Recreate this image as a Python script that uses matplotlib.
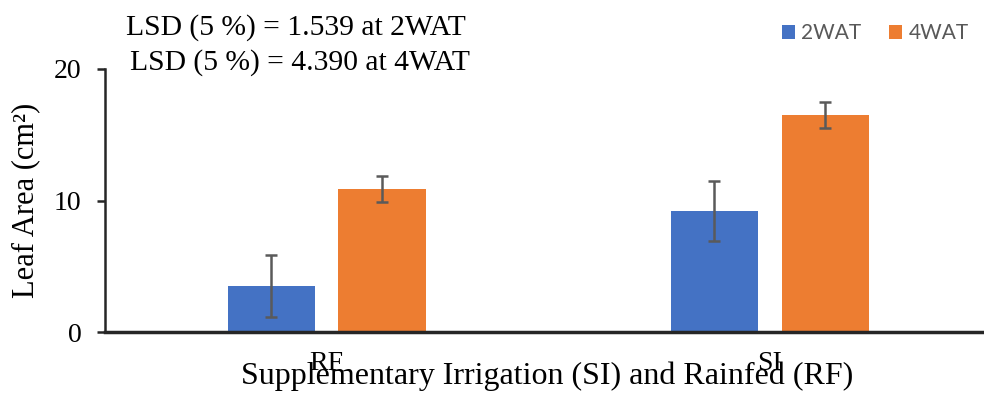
import matplotlib
matplotlib.use("Agg")
import matplotlib.pyplot as plt
import numpy as np

# Leaf area by water regime at two sampling times
categories = ["RF", "SI"]
series_names = ["2WAT", "4WAT"]
leaf_area_2wat = [3.5, 9.2]
leaf_area_4wat = [10.9, 16.5]
err_2wat = [2.35, 2.3]
err_4wat = [1.0, 1.0]
y_ticks = [0, 10, 20]

colors = ["#4472C4", "#ED7D31"]
err_color = "#5A5A5A"
serif = ["Liberation Serif", "DejaVu Serif"]

fig = plt.figure(figsize=(9.84, 3.94), dpi=100)
ax = fig.add_axes([105 / 984, 1 - 332 / 394, 1 - 105 / 984, (332 - 69) / 394])

x = np.arange(len(categories))
width = 0.197
offset = 0.125
ekw = dict(ecolor=err_color, elinewidth=1.8, capsize=4.5, capthick=1.8)
ax.bar(x - offset, leaf_area_2wat, width, color=colors[0], label=series_names[0],
       yerr=err_2wat, error_kw=ekw, zorder=2)
ax.bar(x + offset, leaf_area_4wat, width, color=colors[1], label=series_names[1],
       yerr=err_4wat, error_kw=ekw, zorder=2)

ax.set_xlim(-0.5, 1.483)
ax.set_ylim(0, 20)
ax.set_yticks(y_ticks)
ax.set_xticks(x)
ax.set_xticklabels(categories, fontfamily=serif, fontsize=20)
for lbl in ax.get_yticklabels():
    lbl.set_fontfamily(serif)
    lbl.set_fontsize(20)
ax.tick_params(axis="y", direction="out", length=6, width=1.8, color="#262626", pad=11)
ax.tick_params(axis="x", length=0, pad=14)

for side in ["top", "right"]:
    ax.spines[side].set_visible(False)
ax.spines["left"].set_linewidth(1.8)
ax.spines["left"].set_color("#262626")
ax.spines["bottom"].set_linewidth(2.5)
ax.spines["bottom"].set_color("#262626")

ax.set_ylabel("Leaf Area (cm²)", fontfamily=serif, fontsize=22, va="center")
ax.yaxis.set_label_coords(26 / 984, 1 - 200 / 394, transform=fig.transFigure)
ax.set_xlabel("Supplementary Irrigation (SI) and Rainfed (RF)", fontfamily=serif,
              fontsize=23, va="baseline")
ax.xaxis.set_label_coords(547 / 984, 1 - 384 / 394, transform=fig.transFigure)

fig.text(296 / 984, 1 - 28 / 394, "LSD (5 %) = 1.539 at 2WAT", fontfamily=serif,
         fontsize=21.3, ha="center", va="center")
fig.text(300 / 984, 1 - 63 / 394, "LSD (5 %) = 4.390 at 4WAT", fontfamily=serif,
         fontsize=21.3, ha="center", va="center")

leg = ax.legend(loc="center", bbox_to_anchor=(875 / 984, 1 - 33 / 394),
                bbox_transform=fig.transFigure, ncol=2, frameon=False,
                prop={"family": ["Lato", "DejaVu Sans"], "size": 15},
                handlelength=0.65, handleheight=0.65, handletextpad=0.3,
                columnspacing=1.3, borderpad=0, borderaxespad=0)
for t in leg.get_texts():
    t.set_color("#595959")

fig.savefig("out.png", dpi=100)
